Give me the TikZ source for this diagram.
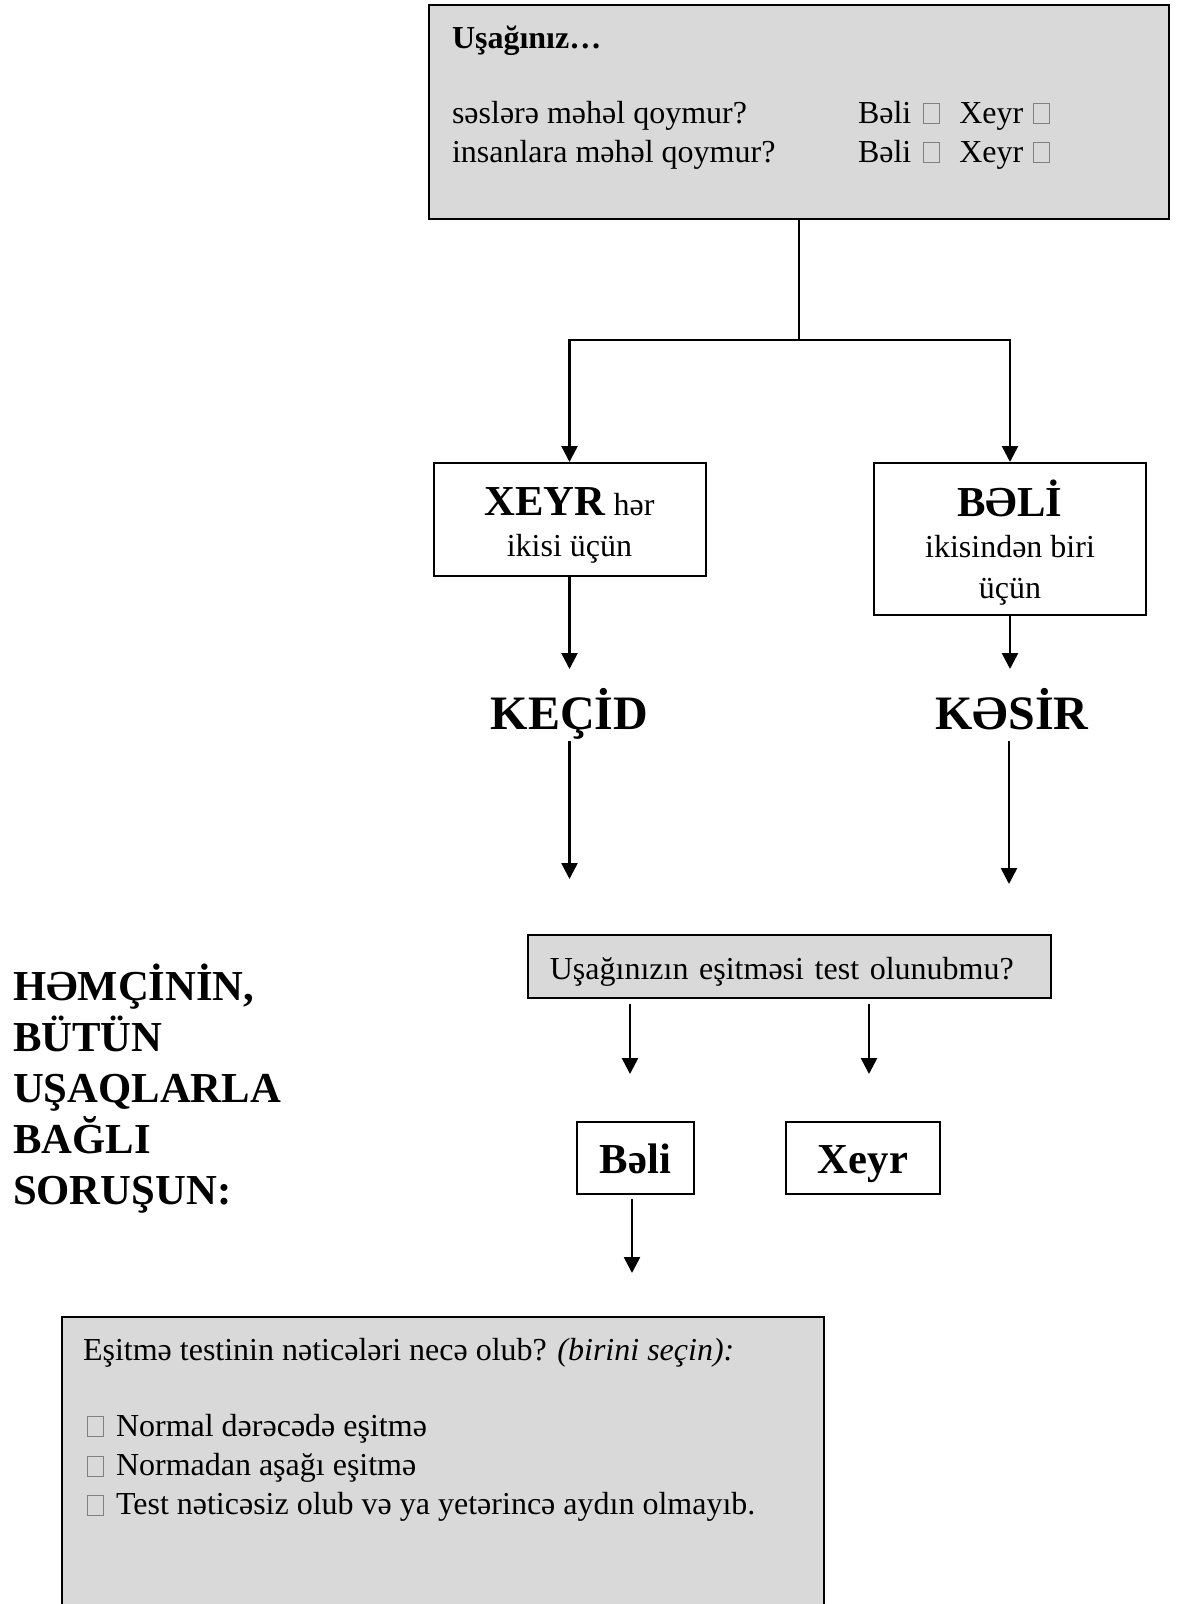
\documentclass[tikz,border=0pt]{standalone}
\usepackage{fontspec}
\setmainfont{Liberation Serif}
\usetikzlibrary{arrows.meta}
\definecolor{boxgrey}{HTML}{D9D9D9}
\newcommand\bodysize{\fontsize{32}{39}\selectfont}
\newcommand\bigsize{\fontsize{42.7}{51}\selectfont}
\newcommand\hugesize{\fontsize{48}{56}\selectfont}
\newcommand\tofu{{\setlength\fboxsep{0pt}\setlength\fboxrule{1pt}\color{black!50}\fbox{\rule{0pt}{19pt}\rule{15pt}{0pt}}}}

\begin{document}
\begin{tikzpicture}[x=1pt,y=-1pt,line width=2pt,>={Triangle[length=16pt,width=16pt]},
    link/.style={line width=2.6pt},
    greybox/.style={draw,fill=boxgrey,anchor=north west,inner sep=0},
    whitebox/.style={draw,fill=white,align=center,inner sep=0,font=\fontsize{32}{41}\selectfont},
    txt/.style={inner sep=0,anchor=base west,font=\bodysize},
    bigword/.style={font=\hugesize\bfseries,inner sep=0,text height=59pt,text depth=11pt,anchor=base}]
            \useasboundingbox (0,0) rectangle (1180,1604);
            \node[greybox,minimum width=740pt,minimum height=214pt] (ask) at (428,4) {};
            \node[txt,font=\bodysize\bfseries] (asktitle) at (451,48) {Uşağınız…};
            \node[txt] (sounds) at (451,123) {səslərə məhəl qoymur?};
            \node[txt] (people) at (451,162) {insanlara məhəl qoymur?};
            \node[txt] (soundsans) at (857,123) {Bəli\hspace{12pt}\tofu\hspace{19pt}Xeyr\hspace{10pt}\tofu};
            \node[txt] (peopleans) at (857,162) {Bəli\hspace{12pt}\tofu\hspace{19pt}Xeyr\hspace{10pt}\tofu};
            \coordinate (split) at (ask.south |- 0,340);
            \draw[link] (ask.south) -- (split);
            \node[whitebox,minimum width=272pt,minimum height=112.6pt,anchor=north] (no) at (569.5,462) {\rule{0pt}{40pt}{\bigsize\bfseries XEYR} hər\\ikisi üçün};
            \node[whitebox,minimum width=272pt,minimum height=151.5pt,anchor=north] (yes) at (1010,462) {\rule{0pt}{44pt}{\bigsize\bfseries BƏLİ}\\ikisindən biri\\üçün};
            \draw[link,->] (split) -| (no);
            \draw[link,->] (split) -| (yes);
            \node[bigword] (pass) at (569.5,729) {KEÇİD};
            \node[bigword] (refer) at (1012,729) {KƏSİR};
            \draw[link,->] (no) -- (pass);
            \draw[link,->] (yes.south) -- (yes.south |- pass.north);
            \coordinate (passend) at (569.5,879);
            \coordinate (referend) at (1009,884);
            \draw[link,->] (pass) -- (passend);
            \draw[link,->] (refer.south -| referend) -- (referend);
            \node[txt,anchor=west,align=left,font=\bigsize\bfseries] (note) at (12,1089) {HƏMÇİNİN,\\BÜTÜN\\UŞAQLARLA\\BAĞLI\\SORUŞUN:};
            \node[greybox,minimum width=523.5pt,minimum height=63.5pt,text width=479pt,inner xsep=22pt,align=left,font=\bodysize] (test) at (526.6,933.5) {\rule{0pt}{33pt}Uşağınızın eşitməsi test olunubmu?};
            \coordinate (testyes) at (630,1074);
            \coordinate (testno) at (869,1074);
            \draw[link,->,shorten <=5pt] (test.south -| testyes) -- (testyes);
            \draw[link,->,shorten <=5pt] (test.south -| testno) -- (testno);
            \node[whitebox,font=\bigsize\bfseries,text height=35pt,text depth=4pt,minimum width=117.6pt,minimum height=72.6pt] (tested) at (635.5,1158) {Bəli};
            \node[whitebox,font=\bigsize\bfseries,text height=35pt,text depth=4pt,minimum width=153.4pt,minimum height=72.6pt] (untested) at (863,1158) {Xeyr};
            \coordinate (testedend) at (632,1273);
            \draw[link,->,shorten <=4pt] (tested.south -| testedend) -- (testedend);
            \node[greybox,minimum width=761.6pt,minimum height=320pt] (result) at (61.4,1316) {};
            \node[txt] (resultq) at (82,1360) {Eşitmə testinin nəticələri necə olub? \textit{(birini seçin):}};
            \node[txt] (normal) at (86,1436) {\tofu\hspace{12pt}Normal dərəcədə eşitmə};
            \node[txt] (below) at (86,1475.5) {\tofu\hspace{12pt}Normadan aşağı eşitmə};
            \node[txt] (unclear) at (86,1514.5) {\tofu\hspace{12pt}Test nəticəsiz olub və ya yetərincə aydın olmayıb.};
\end{tikzpicture}
\end{document}
